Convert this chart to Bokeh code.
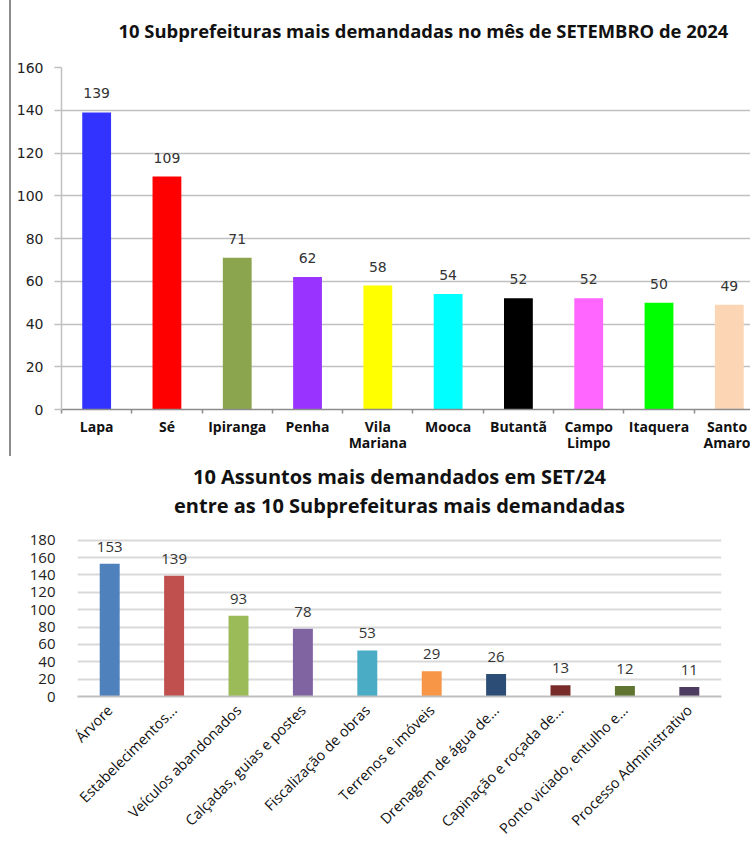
from bokeh.plotting import figure
from bokeh.models import Range1d, FixedTicker, ColumnDataSource, Title
from bokeh.layouts import column, row
from bokeh.core.properties import value
from bokeh.embed import file_html
from bokeh.resources import INLINE

# ---- data: top chart ----
subprefeituras = ["Lapa", "Sé", "Ipiranga", "Penha", "Vila\nMariana", "Mooca",
                  "Butantã", "Campo\nLimpo", "Itaquera", "Santo\nAmaro"]
demandas_sub = [139, 109, 71, 62, 58, 54, 52, 52, 50, 49]
cores_sub = ["#3333ff", "#ff0000", "#8aa54e", "#9933ff", "#ffff00", "#00ffff",
             "#000000", "#ff66ff", "#00ff00", "#fcd5b4"]
ticks_sub = [0, 20, 40, 60, 80, 100, 120, 140, 160]
titulo_sub = "10 Subprefeituras mais demandadas no mês de SETEMBRO de 2024"

# ---- data: bottom chart ----
assuntos = ["Árvore", "Estabelecimentos...", "Veículos abandonados",
            "Calçadas, guias e postes", "Fiscalização de obras",
            "Terrenos e imóveis", "Drenagem de água de...",
            "Capinação e roçada de...", "Ponto viciado, entulho e...",
            "Processo Administrativo"]
demandas_ass = [153, 139, 93, 78, 53, 29, 26, 13, 12, 11]
cores_ass = ["#4f81bd", "#c0504d", "#9bbb59", "#8064a2", "#4bacc6",
             "#f79646", "#2c4d75", "#772c2a", "#5f7530", "#4d3b62"]
ticks_ass = [0, 20, 40, 60, 80, 100, 120, 140, 160, 180]
titulo_ass_1 = "10 Assuntos mais demandados em SET/24"
titulo_ass_2 = "entre as 10 Subprefeituras mais demandadas"

OPEN = value("Open Sans")
DEJAVU = value("DejaVu Sans")

# ================= TOP =================
p1 = figure(width=741, height=456, output_backend="svg", toolbar_location=None,
            x_range=Range1d(-0.5, 9.33), y_range=Range1d(0, 160),
            min_border_left=50, min_border_right=0, min_border_top=67,
            min_border_bottom=47)
p1.styles = {"margin-left": "9px", "border-left": "2px solid #8c8c8c"}
p1.outline_line_color = None

# main title (outermost) and an empty spacer title next to the frame
p1.title.text = titulo_sub
p1.title.align = "left"
p1.title.offset = 57
p1.title.text_font = "Open Sans"
p1.title.text_font_style = "bold"
p1.title.text_font_size = "18.4px"
p1.title.text_color = "#111111"
p1.title.standoff = 0
p1.add_layout(Title(text=" ", text_font_size="2px", standoff=21), "above")

xs1 = list(range(len(subprefeituras)))
src1 = ColumnDataSource(dict(x=xs1, y=demandas_sub, c=cores_sub,
                             t=[str(v) for v in demandas_sub]))
p1.vbar(x="x", top="y", width=0.41, fill_color="c", line_color=None, source=src1)
p1.text(x="x", y="y", text="t", source=src1, text_align="center",
        text_baseline="bottom", y_offset=-14, text_font=DEJAVU,
        text_font_size="14px", text_color="#333333")

p1.xgrid.visible = False
p1.ygrid.grid_line_color = "#c0c0c0"
p1.ygrid.grid_line_width = 1.5
p1.ygrid.ticker = FixedTicker(ticks=ticks_sub)

ax = p1.xaxis[0]
ax.ticker = FixedTicker(ticks=xs1, minor_ticks=[i - 0.5 for i in range(len(xs1) + 1)])
ax.major_label_overrides = {i: s for i, s in enumerate(subprefeituras)}
ax.major_tick_line_color = None
ax.minor_tick_out = 4
ax.minor_tick_in = 0
ax.minor_tick_line_color = "#8c8c8c"
ax.minor_tick_line_width = 1.5
ax.axis_line_color = "#8c8c8c"
ax.axis_line_width = 1.5
ax.major_label_text_font = "Open Sans"
ax.major_label_text_font_style = "bold"
ax.major_label_text_font_size = "14px"
ax.major_label_text_line_height = 0.85
ax.major_label_text_color = "#111111"
ax.major_label_standoff = 1

ay = p1.yaxis[0]
ay.ticker = FixedTicker(ticks=ticks_sub)
ay.minor_tick_line_color = None
ay.major_tick_out = 7
ay.major_tick_in = 0
ay.major_tick_line_color = "#c0c0c0"
ay.major_tick_line_width = 1.5
ay.axis_line_color = "#c0c0c0"
ay.axis_line_width = 1.5
ay.major_label_text_font = "DejaVu Sans"
ay.major_label_text_font_size = "14px"
ay.major_label_text_color = "#222222"
ay.major_label_standoff = 11

# ================= BOTTOM =================
p2 = figure(width=752, height=391, output_backend="svg", toolbar_location=None,
            x_range=Range1d(-0.5, 9.5), y_range=Range1d(0, 205),
            min_border_left=77, min_border_right=31, min_border_top=62,
            min_border_bottom=150)
p2.outline_line_color = None

p2.title.text = titulo_ass_1
p2.title.align = "center"
p2.title.text_font = "Open Sans"
p2.title.text_font_style = "bold"
p2.title.text_font_size = "20px"
p2.title.text_color = "#111111"
p2.title.standoff = 0
p2.add_layout(Title(text=titulo_ass_2, align="center", text_font="Open Sans",
                    text_font_style="bold", text_font_size="20px",
                    text_color="#111111", standoff=0), "above")

xs2 = list(range(len(assuntos)))
src2 = ColumnDataSource(dict(x=xs2, y=demandas_ass, c=cores_ass,
                             t=[str(v) for v in demandas_ass]))
p2.vbar(x="x", top="y", width=0.31, fill_color="c", line_color=None, source=src2)
p2.text(x="x", y="y", text="t", source=src2, text_align="center",
        text_baseline="bottom", y_offset=-12, text_font=OPEN,
        text_font_size="15px", text_color="#333333")

p2.xgrid.visible = False
p2.ygrid.grid_line_color = "#d9d9d9"
p2.ygrid.grid_line_width = 2
p2.ygrid.ticker = FixedTicker(ticks=ticks_ass)

bx = p2.xaxis[0]
bx.ticker = FixedTicker(ticks=xs2)
bx.major_label_overrides = {i: s for i, s in enumerate(assuntos)}
bx.major_tick_line_color = None
bx.minor_tick_line_color = None
bx.axis_line_color = "#bfbfbf"
bx.axis_line_width = 2
bx.major_label_orientation = 0.785398
bx.major_label_text_font = "Open Sans"
bx.major_label_text_font_size = "14.5px"
bx.major_label_text_color = "#111111"
bx.major_label_standoff = 5

by = p2.yaxis[0]
by.ticker = FixedTicker(ticks=ticks_ass)
by.minor_tick_line_color = None
by.major_tick_line_color = None
by.axis_line_color = None
by.major_label_text_font = "Open Sans"
by.major_label_text_font_size = "15px"
by.major_label_text_color = "#222222"
by.major_label_standoff = 16

layout = column(row(p1), row(p2), spacing=0)
open("out.html", "w").write(file_html(layout, INLINE))
